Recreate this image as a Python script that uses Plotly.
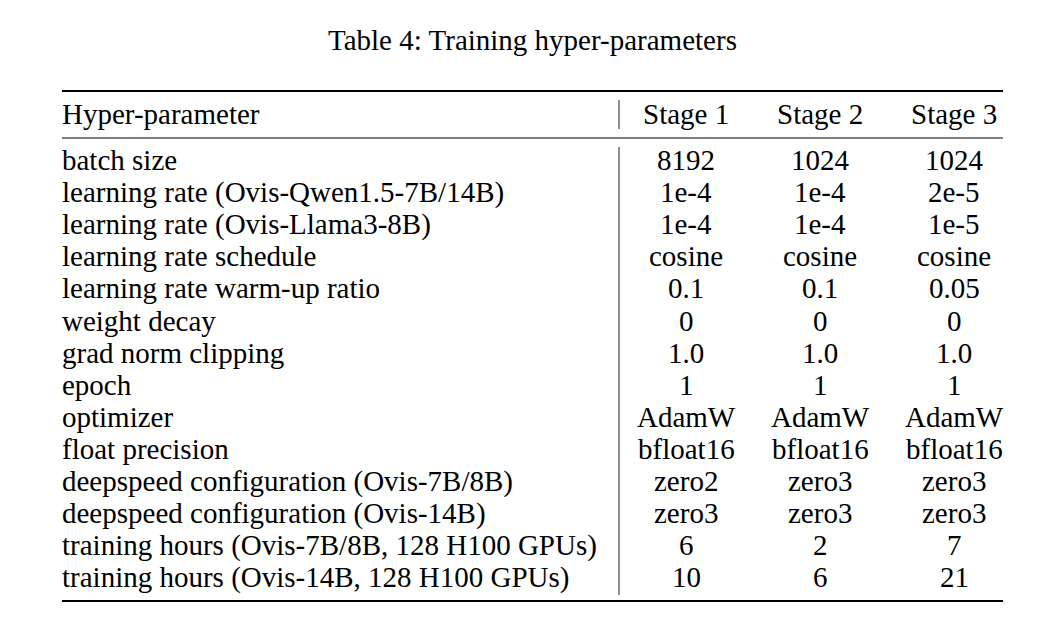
import plotly.graph_objects as go

title = "Table 4: Training hyper-parameters"
header = ["Hyper-parameter", "Stage 1", "Stage 2", "Stage 3"]
params = [
    "batch size",
    "learning rate (Ovis-Qwen1.5-7B/14B)",
    "learning rate (Ovis-Llama3-8B)",
    "learning rate schedule",
    "learning rate warm-up ratio",
    "weight decay",
    "grad norm clipping",
    "epoch",
    "optimizer",
    "float precision",
    "deepspeed configuration (Ovis-7B/8B)",
    "deepspeed configuration (Ovis-14B)",
    "training hours (Ovis-7B/8B, 128 H100 GPUs)",
    "training hours (Ovis-14B, 128 H100 GPUs)",
]
stage1 = ["8192", "1e-4", "1e-4", "cosine", "0.1", "0", "1.0", "1", "AdamW", "bfloat16", "zero2", "zero3", "6", "10"]
stage2 = ["1024", "1e-4", "1e-4", "cosine", "0.1", "0", "1.0", "1", "AdamW", "bfloat16", "zero3", "zero3", "2", "6"]
stage3 = ["1024", "2e-5", "1e-5", "cosine", "0.05", "0", "1.0", "1", "AdamW", "bfloat16", "zero3", "zero3", "7", "21"]

# layout (axis units = page pixels; page body has an 8px margin)
W, H = 1059, 627
OFF = 8
FONT = "Liberation Serif, Times New Roman, serif"
FS = 29
TITLE_FS = 29
left_x = 62
text_left_x = 60
right_x = 1003
sep_x = 619
col_x = [686, 820, 954]
title_y = 40
top_rule = 91
header_y = 114
mid_rule = 138
first_row_y = 160
row_step = 32.1
bottom_rule = 601

fig = go.Figure()
fig.add_trace(go.Scatter(x=[OFF, W], y=[OFF, H], mode="markers",
                         marker=dict(opacity=0), hoverinfo="skip", showlegend=False))

ann = []
def add(text, x, y, anchor, size=FS):
    ann.append(dict(text=text, x=x, y=y, xref="x", yref="y", showarrow=False,
                    xanchor=anchor, yanchor="middle",
                    font=dict(family=FONT, size=size, color="black")))

add(title, (left_x + right_x) / 2, title_y, "center", TITLE_FS)
add(header[0], text_left_x, header_y, "left")
for j, h in enumerate(header[1:]):
    add(h, col_x[j], header_y, "center")

cols = [stage1, stage2, stage3]
for i, p in enumerate(params):
    y = first_row_y + i * row_step
    add(p, text_left_x, y, "left")
    for j, c in enumerate(cols):
        add(c[i], col_x[j], y, "center")

shapes = [
    dict(type="line", xref="x", yref="y", x0=left_x, x1=right_x, y0=top_rule, y1=top_rule,
         line=dict(color="black", width=2)),
    dict(type="line", xref="x", yref="y", x0=left_x, x1=right_x, y0=mid_rule, y1=mid_rule,
         line=dict(color="black", width=1.2)),
    dict(type="line", xref="x", yref="y", x0=left_x, x1=right_x, y0=bottom_rule, y1=bottom_rule,
         line=dict(color="black", width=2)),
    dict(type="line", xref="x", yref="y", x0=sep_x, x1=sep_x, y0=top_rule + 9, y1=mid_rule - 9,
         line=dict(color="#444", width=1.2)),
    dict(type="line", xref="x", yref="y", x0=sep_x, x1=sep_x, y0=mid_rule + 9, y1=bottom_rule - 6,
         line=dict(color="#444", width=1.2)),
]

fig.update_layout(
    width=W, height=H, margin=dict(l=0, r=0, t=0, b=0),
    paper_bgcolor="white", plot_bgcolor="white",
    xaxis=dict(range=[OFF, W + OFF], visible=False, fixedrange=True),
    yaxis=dict(range=[H + OFF, OFF], visible=False, fixedrange=True),
    annotations=ann, shapes=shapes, showlegend=False,
)
fig.write_html("out.html")
